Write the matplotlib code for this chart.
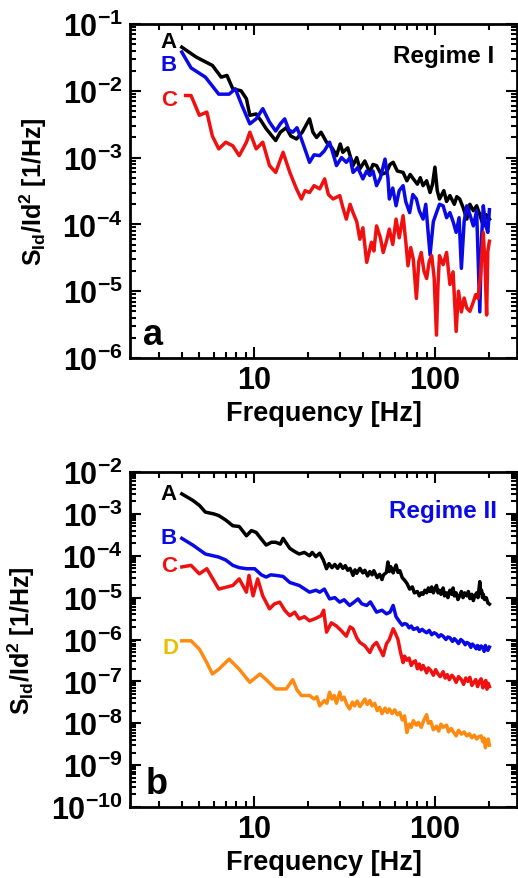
import matplotlib
matplotlib.use("Agg")
import matplotlib.pyplot as plt
import numpy as np
from matplotlib.ticker import LogLocator, FuncFormatter, NullFormatter

plt.rcParams['font.family'] = ['Liberation Sans', 'DejaVu Sans']
plt.rcParams['font.weight'] = 'bold'
plt.rcParams['mathtext.fontset'] = 'custom'
plt.rcParams['mathtext.rm'] = 'Liberation Sans:bold'
plt.rcParams['mathtext.bf'] = 'Liberation Sans:bold'
plt.rcParams['mathtext.it'] = 'Liberation Sans:bold'

# ---------------- Panel a (Regime I) ----------------
fa_A = [4.0, 4.8, 5.9, 6.6, 7.1, 7.65, 8.5, 9.1, 9.5, 10.3, 11.0, 11.7, 13.2, 14.0, 15.1, 16.0, 17.2, 18.5,
        20.3, 21.2, 22.2, 23.5, 25.2, 27.0, 28.6, 30.0, 31.0, 33.0, 35.3, 37.0, 38.5, 41.0, 43.7, 45.5, 47.6,
        50.5, 54, 56.5, 58.8, 62, 66.7, 70, 73, 76, 80, 83, 86, 90, 94, 97, 100, 103, 106, 112, 116, 121,
        128, 132, 137, 143, 150, 156, 163, 170, 177, 185, 192, 200]
va_A = [4.5e-2, 3.2e-2, 2.4e-2, 1.6e-2, 1.7e-2, 1.07e-2, 1.0e-2, 7.6e-3, 4.3e-3, 4.5e-3, 3.5e-3, 2.7e-3,
        1.8e-3, 2.4e-3, 2.8e-3, 2.1e-3, 1.9e-3, 2.4e-3, 3.8e-3, 2.4e-3, 2.0e-3, 2.4e-3, 1.7e-3, 1.4e-3,
        1.07e-3, 1.6e-3, 1.2e-3, 1.4e-3, 7.6e-4, 1.0e-3, 6.8e-4, 8.9e-4, 6.0e-4, 7.9e-4, 7.6e-4, 5.6e-4,
        6.0e-4, 7.9e-4, 8.5e-4, 6.3e-4, 6.0e-4, 4.5e-4, 5.6e-4, 4.8e-4, 4.0e-4, 5.0e-4, 3.8e-4, 4.5e-4,
        3.0e-4, 4.0e-4, 7.2e-4, 3.2e-4, 2.4e-4, 3.2e-4, 2.2e-4, 2.7e-4, 2.0e-4, 2.6e-4, 2.4e-4, 1.8e-4,
        1.2e-4, 2.0e-4, 1.6e-4, 1.9e-4, 1.4e-4, 9.5e-5, 1.4e-4, 1.2e-4]

fa_B = [4.0, 4.5, 5.4, 6.4, 7.3, 7.9, 8.6, 9.5, 10.3, 11.2, 12.2, 13.2, 14.0, 14.8, 15.6, 16.4, 17.3, 18.3,
        19.3, 20.3, 21.5, 23.1, 24.5, 26.2, 27.5, 28.6, 30.5, 32.4, 34, 35.3, 37.5, 40, 42, 43.7, 45.5, 47.6,
        50, 53, 55, 56, 58.5, 61, 63.5, 66.7, 69, 72.5, 75.5, 79, 82, 86, 89, 94, 98, 102, 106, 111, 116,
        121, 126, 131, 136, 140, 145, 150, 156, 163, 170, 177, 181, 185, 190, 196, 200]
va_B = [3.8e-2, 2.2e-2, 1.6e-2, 8.9e-3, 8.9e-3, 1.07e-2, 6.0e-3, 3.2e-3, 3.8e-3, 5.4e-3, 3.4e-3, 2.5e-3,
        3.2e-3, 3.8e-3, 2.6e-3, 2.4e-3, 2.8e-3, 1.9e-3, 1.26e-3, 8.5e-4, 1.1e-3, 1.07e-3, 1.26e-3, 1.7e-3,
        1.1e-3, 7.6e-4, 1.0e-3, 8.5e-4, 1.0e-3, 6.0e-4, 7.1e-4, 4.8e-4, 6.3e-4, 5.4e-4, 6.3e-4, 3.8e-4,
        5.0e-4, 9.5e-4, 5.0e-4, 2.4e-4, 3.5e-4, 1.9e-4, 3.2e-4, 3.8e-4, 2.2e-4, 1.5e-4, 2.8e-4, 2.4e-4,
        1.6e-4, 1.2e-4, 2.0e-4, 3.5e-5, 1.1e-4, 1.5e-4, 2.0e-4, 1.9e-4, 1.26e-4, 1.5e-4, 1.1e-4, 7.6e-5,
        1.26e-4, 2.2e-5, 1.1e-4, 1.9e-4, 1.4e-4, 9.5e-5, 1.6e-4, 4.9e-6, 6.3e-5, 1.9e-4, 1.0e-4, 7.6e-5,
        1.66e-4]

fa_C = [4.2, 4.5, 5.0, 5.5, 5.9, 6.4, 7.0, 7.65, 8.3, 9.1, 9.5, 10.3, 11.2, 12.2, 13.2, 14.5, 15.8, 17.2,
        18.3, 19.2, 20.3, 21.5, 23.1, 24.6, 25.8, 27.4, 29.8, 31, 32.4, 34, 35.3, 37, 38.5, 40, 42, 44.6, 46,
        47.6, 50, 51.8, 54, 56, 58.5, 61, 63.5, 66.7, 69, 71, 73.5, 76, 79, 81.5, 84, 87, 90, 93, 96, 99,
        102, 104, 106, 111, 116, 121, 126, 131, 135, 140, 145, 150, 156, 163, 168, 173, 178, 185, 189, 193,
        196, 200]
va_C = [8.5e-3, 8.5e-3, 4.3e-3, 4.8e-3, 2.1e-3, 1.35e-3, 1.7e-3, 1.5e-3, 1.07e-3, 1.7e-3, 2.4e-3, 1.35e-3,
        1.7e-3, 7.6e-4, 6.0e-4, 1.2e-3, 6.0e-4, 3.4e-4, 2.4e-4, 3.2e-4, 3.0e-4, 3.8e-4, 3.4e-4, 4.8e-4,
        2.8e-4, 2.4e-4, 2.7e-4, 1.8e-4, 1.2e-4, 2.0e-4, 1.5e-4, 1.1e-4, 6.0e-5, 8.9e-5, 2.7e-5, 5.4e-5,
        4.0e-5, 9.5e-5, 6.3e-5, 3.8e-5, 5.6e-5, 8.5e-5, 5.0e-5, 1.2e-4, 6.3e-5, 1.35e-4, 5.6e-5, 2.4e-5,
        4.5e-5, 3.0e-5, 7.8e-6, 2.8e-5, 3.8e-5, 2.0e-5, 1.55e-5, 2.8e-5, 3.4e-5, 1.6e-5, 2.2e-6, 1.26e-5,
        3.4e-5, 2.5e-5, 3.8e-5, 1.26e-5, 1.95e-5, 2.5e-6, 1.0e-5, 4.9e-6, 7.9e-6, 5.6e-6, 5.0e-6, 6.9e-6,
        8.9e-6, 7.8e-6, 1.6e-5, 7.6e-5, 2.5e-5, 4.4e-6, 4.0e-5, 5.6e-5]

# ---------------- Panel b (Regime II) ----------------
fb_A = [4, 4.6, 5.0, 5.4, 6.0, 6.4, 7.0, 7.65, 8.3, 9.1, 9.7, 10.3, 11.0, 11.7, 12.5, 13.2, 14.0, 14.5, 15.1,
        15.8, 16.8, 17.8, 19.0, 20.3, 21, 22, 23.1, 24.2, 25.2, 26, 27, 28, 29, 30, 31, 32, 33, 34, 35.3, 36.2,
        37, 38.5, 40, 41, 42.5, 43.7, 45, 46, 48, 49.5, 51, 52, 54, 55, 56, 57, 58.8, 60, 61, 62.5, 64, 66,
        68, 70, 72.5, 75, 77, 80, 82, 84, 86, 88, 90, 92, 94, 96, 98, 100, 102, 104, 106, 108, 111, 113, 116,
        118, 121, 124, 126, 128, 131, 134, 137, 140, 143, 146, 150, 153, 156, 160, 163, 166, 170, 173, 177,
        179, 181, 183, 185, 188, 192, 196, 200]
vb_A = [3.0e-3, 2.1e-3, 1.6e-3, 1.1e-3, 1.0e-3, 9.1e-4, 7.1e-4, 5.2e-4, 5.0e-4, 3.0e-4, 4.0e-4, 3.6e-4,
        2.5e-4, 1.8e-4, 2.1e-4, 2.1e-4, 1.9e-4, 2.6e-4, 2.0e-4, 1.5e-4, 1.26e-4, 1.1e-4, 1.2e-4, 1.0e-4,
        1.2e-4, 9.5e-5, 1.15e-4, 7.9e-5, 4.9e-5, 6.5e-5, 5.2e-5, 6.2e-5, 5.0e-5, 6.3e-5, 5.0e-5, 5.8e-5,
        4.5e-5, 5.0e-5, 3.4e-5, 4.6e-5, 3.8e-5, 5.0e-5, 3.9e-5, 4.5e-5, 3.3e-5, 4.2e-5, 3.5e-5, 4.4e-5,
        3.0e-5, 3.6e-5, 2.7e-5, 3.5e-5, 4.0e-5, 7.1e-5, 4.2e-5, 5.5e-5, 3.9e-5, 5.0e-5, 6.0e-5, 4.0e-5,
        4.4e-5, 3.0e-5, 2.6e-5, 2.2e-5, 1.6e-5, 1.8e-5, 1.3e-5, 1.4e-5, 1.1e-5, 1.3e-5, 1.2e-5, 1.5e-5,
        1.3e-5, 1.7e-5, 1.4e-5, 1.8e-5, 1.3e-5, 1.6e-5, 1.95e-5, 1.3e-5, 1.5e-5, 1.2e-5, 1.7e-5, 1.1e-5,
        1.3e-5, 1.0e-5, 1.5e-5, 1.2e-5, 1.7e-5, 1.1e-5, 1.3e-5, 9.0e-6, 1.1e-5, 1.4e-5, 1.0e-5, 1.3e-5,
        1.1e-5, 1.4e-5, 9.5e-6, 1.2e-5, 8.5e-6, 1.1e-5, 1.3e-5, 1.0e-5, 2.4e-5, 1.3e-5, 1.5e-5, 1.0e-5,
        1.2e-5, 9.0e-6, 1.0e-5, 7.5e-6, 7.0e-6]

fb_B = [4, 4.6, 5.4, 6.4, 7.0, 7.65, 8.3, 9.1, 10.1, 11.0, 11.7, 12.4, 13.2, 14.5, 15.8, 17.8, 20.3, 22, 23.1,
        24.5, 26.2, 28, 29.8, 31.5, 33.8, 35.5, 37.6, 39.5, 42, 44, 47.6, 51, 54, 56.5, 58.8, 61, 64, 66, 68,
        70, 72, 74, 76, 78, 80, 82, 85, 87, 90, 93, 96, 99, 102, 105, 108, 111, 115, 118, 121, 125, 128, 131,
        135, 139, 143, 147, 150, 154, 158, 161, 165, 169, 172, 176, 180, 184, 187, 190, 193, 196, 200]
vb_B = [2.6e-4, 1.8e-4, 1.1e-4, 9.3e-5, 7.9e-5, 5.9e-5, 5.2e-5, 4.9e-5, 4.9e-5, 3.5e-5, 3.1e-5, 3.5e-5,
        3.4e-5, 3.2e-5, 2.3e-5, 1.95e-5, 1.35e-5, 1.5e-5, 1.35e-5, 1.6e-5, 9.3e-6, 1.0e-5, 7.8e-6, 8.9e-6,
        6.5e-6, 7.6e-6, 9.3e-6, 7.1e-6, 6.5e-6, 7.9e-6, 4.5e-6, 5.0e-6, 4.1e-6, 4.5e-6, 6.5e-6, 3.5e-6,
        2.6e-6, 2.2e-6, 2.4e-6, 2.3e-6, 1.9e-6, 2.1e-6, 1.75e-6, 1.8e-6, 1.9e-6, 1.55e-6, 1.75e-6, 1.6e-6,
        1.45e-6, 1.65e-6, 1.3e-6, 1.45e-6, 1.35e-6, 1.15e-6, 1.3e-6, 1.2e-6, 1.0e-6, 1.15e-6, 1.1e-6, 9.0e-7,
        1.05e-6, 9.5e-7, 8.0e-7, 1.0e-6, 9.0e-7, 7.5e-7, 8.5e-7, 8.0e-7, 6.5e-7, 7.8e-7, 7.0e-7, 6.0e-7,
        7.2e-7, 5.8e-7, 7.0e-7, 6.4e-7, 5.2e-7, 7.2e-7, 6.0e-7, 5.5e-7, 6.6e-7]

fb_C = [4, 4.5, 5.0, 5.5, 6.4, 7.65, 8.3, 9.1, 9.4, 9.9, 10.5, 11.2, 12.2, 13.0, 13.9, 14.8, 15.8, 16.8, 17.8,
        19, 20.3, 22, 23.5, 24.3, 25.2, 26.8, 28.6, 30.5, 32.4, 34, 35.3, 37, 38.5, 41, 43.7, 45.5, 47.6, 50,
        51.8, 54, 56, 58.8, 60.5, 62.5, 64.5, 66.7, 68, 70, 72, 74, 76, 78, 80, 82, 84, 86, 88, 90, 92, 95, 98,
        101, 104, 107, 111, 114, 117, 120, 124, 127, 131, 135, 140, 144, 148, 152, 156, 160, 164, 168, 172,
        176, 180, 184, 188, 191, 194, 197, 200]
vb_C = [5.4e-5, 5.9e-5, 3.7e-5, 4.9e-5, 1.6e-5, 1.95e-5, 2.8e-5, 1.35e-5, 3.4e-5, 1.1e-5, 2.8e-5, 1.1e-5,
        5.4e-6, 7.1e-6, 7.8e-6, 5.0e-6, 3.7e-6, 4.5e-6, 3.1e-6, 3.5e-6, 2.8e-6, 3.2e-6, 3.7e-6, 5.0e-6,
        1.5e-6, 2.5e-6, 2.1e-6, 1.6e-6, 1.2e-6, 2.0e-6, 1.8e-6, 1.1e-6, 8.5e-7, 7.1e-7, 4.9e-7, 7.1e-7,
        8.5e-7, 5.6e-7, 4.1e-7, 7.9e-7, 1.0e-6, 1.8e-6, 1.4e-6, 1.0e-6, 5.0e-7, 2.8e-7, 4.0e-7, 3.2e-7,
        3.6e-7, 2.4e-7, 2.9e-7, 3.1e-7, 2.0e-7, 2.6e-7, 1.9e-7, 2.4e-7, 2.0e-7, 1.6e-7, 2.1e-7, 1.8e-7,
        1.4e-7, 1.9e-7, 1.5e-7, 1.3e-7, 1.7e-7, 1.2e-7, 1.45e-7, 1.1e-7, 1.4e-7, 1.25e-7, 9.5e-8, 1.3e-7,
        1.1e-7, 8.5e-8, 1.2e-7, 1.0e-7, 1.25e-7, 8.0e-8, 9.5e-8, 1.1e-7, 7.5e-8, 1.0e-7, 1.15e-7, 7.0e-8,
        9.5e-8, 1.05e-7, 6.5e-8, 9.0e-8, 7.5e-8]

fb_D = [4, 4.5, 5.0, 5.5, 5.9, 6.4, 7.3, 8.3, 9.5, 10.8, 11.7, 13.2, 15.1, 16.4, 17.3, 18.3, 20.3, 21.5, 22.3,
        23.1, 24.5, 25.3, 26.2, 27, 27.8, 28.6, 29.8, 30.6, 31.5, 32.6, 33.8, 35, 36, 37.2, 38.5, 39.7, 41,
        42.3, 43.7, 45, 46.5, 48, 49.5, 51, 53, 54.5, 56, 58, 60, 62, 64, 66, 68, 70, 72, 74, 76, 79, 81, 84,
        87, 90, 92, 95, 98, 102, 105, 108, 111, 116, 119, 123, 127, 131, 135, 140, 145, 150, 155, 160, 165,
        170, 175, 180, 184, 187, 190, 193, 197, 200]
vb_D = [9.3e-7, 9.3e-7, 5.9e-7, 2.8e-7, 1.5e-7, 1.95e-7, 3.4e-7, 1.95e-7, 9.5e-8, 1.5e-7, 1.1e-7, 6.6e-8,
        6.6e-8, 1.1e-7, 6.3e-8, 4.6e-8, 4.6e-8, 3.8e-8, 4.3e-8, 2.6e-8, 3.5e-8, 3.0e-8, 5.5e-8, 3.8e-8,
        4.6e-8, 3.0e-8, 5.5e-8, 3.6e-8, 4.2e-8, 2.8e-8, 2.2e-8, 3.2e-8, 2.6e-8, 3.4e-8, 2.5e-8, 3.0e-8,
        3.8e-8, 2.8e-8, 3.5e-8, 2.6e-8, 3.0e-8, 2.0e-8, 2.4e-8, 1.7e-8, 2.3e-8, 1.8e-8, 2.2e-8, 1.7e-8,
        2.1e-8, 1.6e-8, 1.8e-8, 1.2e-8, 1.5e-8, 6.0e-9, 9.5e-9, 8.0e-9, 1.15e-8, 9.0e-9, 1.05e-8, 8.0e-9,
        1.2e-8, 1.6e-8, 1.0e-8, 1.1e-8, 7.0e-9, 8.5e-9, 6.5e-9, 9.5e-9, 8.0e-9, 9.0e-9, 6.2e-9, 7.5e-9,
        6.0e-9, 5.0e-9, 6.8e-9, 5.5e-9, 6.2e-9, 5.0e-9, 5.6e-9, 4.5e-9, 5.2e-9, 4.2e-9, 4.8e-9, 5.0e-9,
        3.6e-9, 4.4e-9, 2.6e-9, 3.8e-9, 4.2e-9, 3.0e-9]

BLACK = '#000000'
BLUE = '#0a0ae6'
RED = '#f01010'
ORANGE = '#ff8a12'
GOLD = '#e8c000'

W, H = 518, 879
fig = plt.figure(figsize=(W / 100, H / 100), dpi=100)

def px_axes(left, top, right, bottom):
    return fig.add_axes([left / W, 1 - bottom / H, (right - left) / W, (bottom - top) / H])

def style_axes(ax, ylim):
    ax.set_xscale('log')
    ax.set_yscale('log')
    ax.set_xlim(2.07, 284)
    ax.set_ylim(*ylim)
    ax.xaxis.set_major_locator(LogLocator(base=10, numticks=10))
    ax.xaxis.set_minor_locator(LogLocator(base=10, subs=np.arange(2, 10), numticks=20))
    ax.yaxis.set_major_locator(LogLocator(base=10, numticks=20))
    ax.yaxis.set_minor_locator(LogLocator(base=10, subs=np.arange(2, 10), numticks=40))
    ax.xaxis.set_major_formatter(FuncFormatter(lambda v, p: '%d' % round(v)))
    ax.yaxis.set_major_formatter(FuncFormatter(lambda v, p: r'$\mathbf{10^{%d}}$' % round(np.log10(v))))
    ax.xaxis.set_minor_formatter(NullFormatter())
    ax.yaxis.set_minor_formatter(NullFormatter())
    ax.tick_params(which='both', direction='in', top=True, right=True, width=1.5)
    ax.tick_params(which='major', length=8, labelsize=22, pad=5)
    ax.tick_params(which='minor', length=4)
    for s in ax.spines.values():
        s.set_linewidth(2)
    for lab in ax.get_xticklabels() + ax.get_yticklabels():
        lab.set_fontweight('bold')
    ax.set_xlabel('Frequency [Hz]', fontsize=19.5, fontweight='bold', labelpad=4)
    ax.set_ylabel(r'S$_{\mathregular{Id}}$/Id$^{\mathregular{2}}$ [1/Hz]', fontsize=18, fontweight='bold', labelpad=10)

lw = 2.5

# Panel a
axa = px_axes(130, 25, 517, 359)
style_axes(axa, (1e-6, 1e-1))
axa.plot(fa_A, va_A, color=BLACK, lw=lw)
axa.plot(fa_B, va_B, color=BLUE, lw=lw)
axa.plot(fa_C, va_C, color=RED, lw=lw)
axa.text(3.75, 5.5e-2, 'A', color=BLACK, fontsize=16, fontweight='bold', ha='right', va='center')
axa.text(3.75, 2.5e-2, 'B', color=BLUE, fontsize=16, fontweight='bold', ha='right', va='center')
axa.text(3.75, 7.5e-3, 'C', color=RED, fontsize=16, fontweight='bold', ha='right', va='center')
axa.text(0.81, 0.905, 'Regime I', transform=axa.transAxes, color=BLACK, fontsize=17.5, fontweight='bold', ha='center', va='center')
axa.text(0.06, 0.07, 'a', transform=axa.transAxes, color=BLACK, fontsize=26, fontweight='bold', ha='center', va='center')

# Panel b
axb = px_axes(130, 473, 517, 808)
style_axes(axb, (1e-10, 1e-2))
axb.plot(fb_A, vb_A, color=BLACK, lw=lw)
axb.plot(fb_B, vb_B, color=BLUE, lw=lw)
axb.plot(fb_C, vb_C, color=RED, lw=lw)
axb.plot(fb_D, vb_D, color=ORANGE, lw=lw)
axb.text(3.75, 3.0e-3, 'A', color=BLACK, fontsize=16, fontweight='bold', ha='right', va='center')
axb.text(3.75, 2.8e-4, 'B', color=BLUE, fontsize=16, fontweight='bold', ha='right', va='center')
axb.text(3.75, 6.0e-5, 'C', color=RED, fontsize=16, fontweight='bold', ha='right', va='center')
axb.text(3.85, 6.5e-7, 'D', color=GOLD, fontsize=16, fontweight='bold', ha='right', va='center')
axb.text(0.81, 0.885, 'Regime II', transform=axb.transAxes, color=BLUE, fontsize=17.5, fontweight='bold', ha='center', va='center')
axb.text(0.07, 0.07, 'b', transform=axb.transAxes, color=BLACK, fontsize=26, fontweight='bold', ha='center', va='center')

fig.savefig('out.png', dpi=100)
